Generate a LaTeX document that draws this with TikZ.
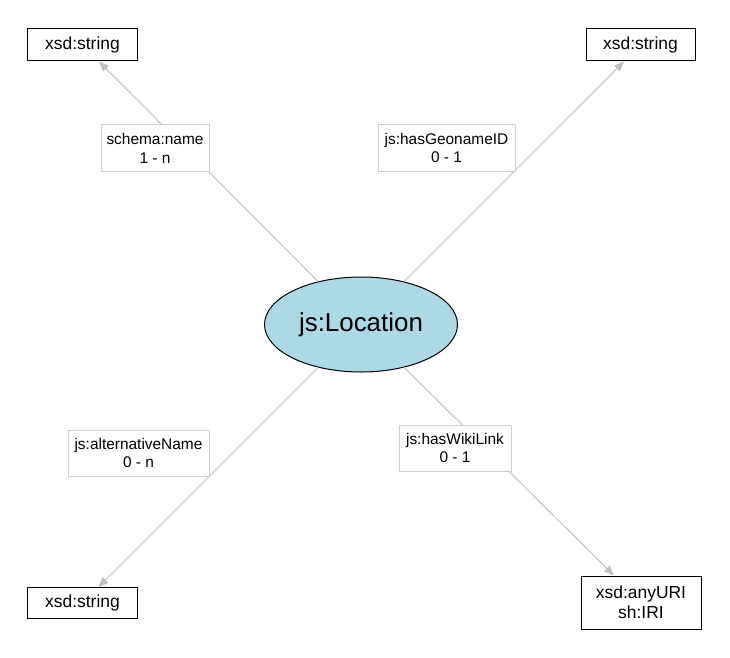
\documentclass[tikz,border=0pt]{standalone}
\usepackage{fontspec}
\setmainfont{Liberation Sans}
\usetikzlibrary{shapes.geometric,arrows.meta}
\definecolor{edgegray}{RGB}{192,192,192}
\definecolor{labgray}{RGB}{205,205,205}
\definecolor{locblue}{RGB}{173,216,230}
\begin{document}
\begin{tikzpicture}[x=1bp,y=-1bp,
  typebox/.style={draw=black, line width=1bp, fill=white, inner sep=0pt, align=center,
    font=\fontsize{17.5}{20}\selectfont},
  proplabel/.style={draw=labgray, line width=1bp, fill=white, inner sep=0pt, align=center,
    minimum height=46bp, font=\fontsize{15.5}{19}\selectfont},
  classnode/.style={ellipse, draw=black, line width=1bp, fill=locblue, inner sep=0pt,
    minimum width=193bp, minimum height=95bp, font=\fontsize{26}{30}\selectfont},
  edge/.style={draw=edgegray, line width=1bp, -{Triangle[length=10bp,width=8bp]}}
]
\useasboundingbox (0,0) rectangle (730,658);
\node[classnode] (loc) at (361,324.5) {js:Location};
\node[typebox, minimum width=109bp, minimum height=32bp] (tl) at (82.5,45) {xsd:string};
\node[typebox, minimum width=109bp, minimum height=32bp] (tr) at (640.5,45) {xsd:string};
\node[typebox, minimum width=109bp, minimum height=31bp] (bl) at (82.5,603) {xsd:string};
\node[typebox, minimum width=120bp, minimum height=53bp] (br) at (641,602.5) {xsd:anyURI\\sh:IRI};
\draw[edge] (loc) -- (tl);
\draw[edge] (loc) -- (tr);
\draw[edge] (loc) -- (bl);
\draw[edge] (loc) -- (br);
\node[proplabel, minimum width=108bp] (l1) at (155,148) {schema:name\\1 - n};
\node[proplabel, minimum width=137bp] (l2) at (446.5,148) {js:hasGeonameID\\0 - 1};
\node[proplabel, minimum width=141bp] (l3) at (138.5,453) {js:alternativeName\\0 - n};
\node[proplabel, minimum width=112bp] (l4) at (455,448) {js:hasWikiLink\\0 - 1};
\end{tikzpicture}
\end{document}
